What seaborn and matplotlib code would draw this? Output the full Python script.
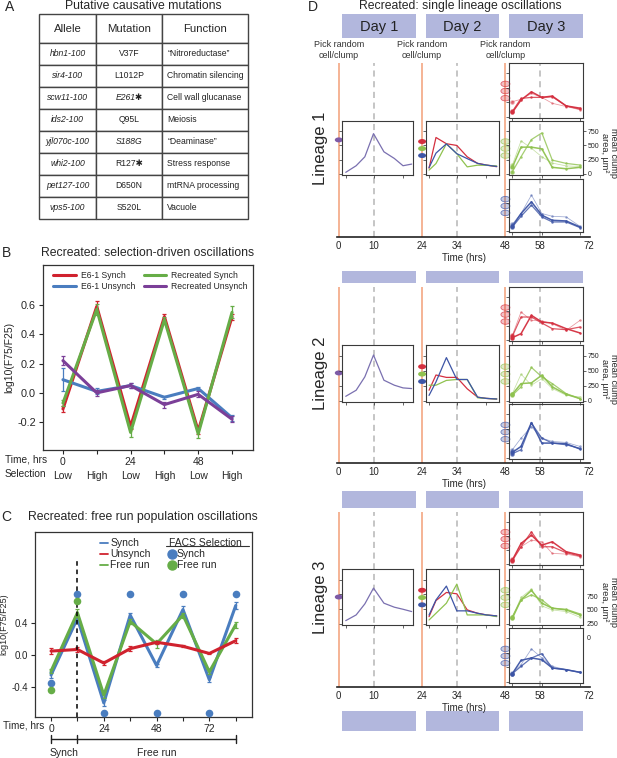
import numpy as np
import seaborn as sns
import matplotlib.pyplot as plt
import matplotlib.transforms as mtransforms
from matplotlib.table import Table
from matplotlib.patches import Ellipse
from matplotlib.lines import Line2D

# ---- panel A: putative causative mutations
ALLELES = ["hbn1-100", "sir4-100", "scw11-100", "ids2-100", "yjl070c-100",
           "whi2-100", "pet127-100", "vps5-100"]
MUTATIONS = ["V37F", "L1012P", "E261\u2731", "Q95L", "S188G", "R127\u2731", "D650N", "S520L"]
MUTATION_ITALIC = [False, False, True, False, True, False, False, False]
FUNCTIONS = ["\u201cNitroreductase\u201d", "Chromatin silencing", "Cell wall glucanase",
             "Meiosis", "\u201cDeaminase\u201d", "Stress response", "mtRNA processing", "Vacuole"]

# ---- panel B: selection-driven oscillations
B_TIME_LABELS = ["0", "", "24", "", "48", ""]
B_SELECTION = ["Low", "High", "Low", "High", "Low", "High"]
B_E61_SYNCH = [-0.11, 0.59, -0.23, 0.52, -0.26, 0.52]
B_E61_SYNCH_ERR = [0.02, 0.04, 0.02, 0.02, 0.02, 0.02]
B_E61_UNSYNCH = [0.09, 0.01, 0.05, -0.03, 0.03, -0.17]
B_E61_UNSYNCH_ERR = [0.08, 0.02, 0.02, 0.01, 0.01, 0.02]
B_REC_SYNCH = [-0.07, 0.57, -0.27, 0.50, -0.28, 0.55]
B_REC_SYNCH_ERR = [0.02, 0.04, 0.03, 0.02, 0.03, 0.04]
B_REC_UNSYNCH = [0.22, 0.00, 0.05, -0.08, -0.01, -0.18]
B_REC_UNSYNCH_ERR = [0.03, 0.02, 0.02, 0.02, 0.02, 0.02]

# ---- panel C: free run population oscillations
C_TIMES = [0, 12, 24, 36, 48, 60, 72, 84]
C_SYNCH = [-0.25, 0.46, -0.60, 0.50, -0.13, 0.57, -0.31, 0.62]
C_SYNCH_ERR = [0.04, 0.04, 0.04, 0.03, 0.02, 0.04, 0.03, 0.04]
C_UNSYNCH = [0.05, 0.07, -0.10, 0.08, 0.16, 0.11, 0.02, 0.18]
C_UNSYNCH_ERR = [0.04, 0.03, 0.02, 0.03, 0.02, 0.01, 0.01, 0.03]
C_FREE = [-0.20, 0.53, -0.50, 0.42, 0.14, 0.50, -0.21, 0.38]
C_FREE_ERR = [0.03, 0.05, 0.04, 0.03, 0.05, 0.03, 0.03, 0.04]
C_FACS_SYNCH = [-0.35, 0.76, -0.72, 0.76, -0.72, 0.76, -0.72, 0.76]
C_FACS_FREE_T = [0, 12]
C_FACS_FREE = [-0.44, 0.68]

# ---- panel D: single lineage oscillations (mean clump area, um^2)
D_DAY1_T = [2, 5, 7.5, 10, 13, 16, 18.5, 21]
D_DAY2_T = [26, 28, 31, 34, 37, 40, 42.5, 45.5]
D_DAY3_T = [50, 52.5, 55.5, 58.5, 61.5, 65.5, 69.5]

L1_DAY1 = [27, 143, 300, 708, 388, 271, 143, 172]
L1_DAY2_RED = [100, 640, 530, 500, 300, 184, 155, 126]
L1_DAY2_GREEN = [66, 182, 528, 355, 123, 153, 150, 140]
L1_DAY2_BLUE = [110, 365, 528, 355, 268, 184, 155, 130]
L1_DAY3_RED = [[76, 291, 432, 336, 359, 189, 150],
               [93, 319, 336, 336, 347, 189, 133],
               [263, 302, 404, 336, 234, 178, 122]]
L1_DAY3_GREEN = [[115, 470, 470, 440, 115, 90, 115],
                 [38, 301, 604, 720, 242, 184, 155],
                 [155, 580, 450, 300, 190, 140, 130]]
L1_DAY3_BLUE = [[82, 311, 521, 281, 190, 178, 70],
                [70, 262, 461, 250, 160, 160, 58],
                [118, 311, 641, 311, 262, 250, 82]]

L2_DAY1 = [75, 176, 399, 763, 343, 260, 215, 204]
L2_DAY2_RED = [176, 430, 390, 390, 200, 60, 40, 30]
L2_DAY2_GREEN = [260, 260, 340, 355, 355, 50, 40, 30]
L2_DAY2_BLUE = [90, 315, 720, 355, 355, 60, 40, 30]
L2_DAY3_RED = [[39, 109, 431, 314, 296, 197, 121],
               [62, 402, 402, 296, 197, 179, 226],
               [80, 490, 343, 332, 285, 168, 343]]
L2_DAY3_GREEN = [[109, 287, 299, 427, 232, 109, 36],
                 [92, 232, 556, 399, 287, 120, 36],
                 [120, 444, 260, 371, 204, 92, 64]]
L2_DAY3_BLUE = [[94, 197, 609, 255, 255, 243, 152],
                [72, 140, 598, 340, 255, 226, 163],
                [140, 340, 540, 340, 283, 266, 197]]

L3_DAY1 = [54, 151, 338, 606, 350, 282, 247, 208]
L3_DAY2_RED = [122, 395, 532, 509, 236, 179, 151, 134]
L3_DAY2_GREEN = [65, 179, 350, 674, 151, 151, 151, 122]
L3_DAY2_BLUE = [150, 405, 640, 220, 220, 179, 151, 134]
L3_DAY3_RED = [[69, 366, 515, 336, 396, 218, 158],
               [57, 307, 574, 307, 307, 200, 140],
               [81, 307, 426, 396, 188, 176, 129]]
L3_DAY3_GREEN = [[94, 407, 566, 350, 265, 236, 151],
                 [122, 407, 492, 407, 265, 247, 168],
                 [111, 447, 589, 304, 236, 208, 111]]
L3_DAY3_BLUE = [[141, 372, 412, 383, 239, 210, 164],
                [141, 268, 412, 487, 239, 210, 164],
                [153, 297, 568, 412, 268, 210, 164]]

D_TICKS = [0, 10, 24, 34, 48, 58, 72]
D_AREA_TICKS = [0, 250, 500, 750]

# ---- colours
RED = "#d0222e"
BLUE = "#4a7dbf"
GREEN = "#66ad47"
PURPLE = "#7b3f98"
D_RED = "#d42f3f"
D_GREEN = "#8fc24f"
D_BLUE = "#3d55a6"
D_PURPLE = "#7a70b0"
ORANGE = "#f3a783"
LAVENDER = "#b2b7dd"

W, H = 617, 758

sns.set_style("ticks")
plt.rcParams["font.family"] = ["Liberation Sans", "DejaVu Sans"]
plt.rcParams["axes.edgecolor"] = "#333333"
plt.rcParams["axes.linewidth"] = 0.9

fig = plt.figure(figsize=(W / 100, H / 100), dpi=100)


def px_axes(x0, y0, x1, y1):
    return fig.add_axes([x0 / W, 1 - y1 / H, (x1 - x0) / W, (y1 - y0) / H])


def fig_text(x, y, s, **kw):
    kw.setdefault("ha", "center")
    kw.setdefault("va", "center")
    return fig.text(x / W, 1 - y / H, s, **kw)


# ================= A =================
fig_text(10, 7, "A", fontsize=10)
fig_text(143, 6, "Putative causative mutations", fontsize=8.8)
ax_a = px_axes(39, 14, 248, 219)
ax_a.axis("off")
tbl = Table(ax_a, bbox=[0, 0, 1, 1])
col_w = [57, 66, 86]
for c, name in enumerate(["Allele", "Mutation", "Function"]):
    cell = tbl.add_cell(0, c, width=col_w[c], height=29, text=name, loc="center",
                        edgecolor="#444444")
    cell.get_text().set_fontsize(8.2)
for r, (allele, mut, ital, func) in enumerate(
        zip(ALLELES, MUTATIONS, MUTATION_ITALIC, FUNCTIONS), start=1):
    c0 = tbl.add_cell(r, 0, width=col_w[0], height=22, text=allele, loc="center",
                      edgecolor="#444444")
    c1 = tbl.add_cell(r, 1, width=col_w[1], height=22, text=mut, loc="center",
                      edgecolor="#444444")
    c2 = tbl.add_cell(r, 2, width=col_w[2], height=22, text=func, loc="left",
                      edgecolor="#444444")
    c2.PAD = 0.06
    c0.get_text().set_fontstyle("italic")
    if ital:
        c1.get_text().set_fontstyle("italic")
    for cell in (c0, c1, c2):
        cell.get_text().set_fontsize(6.2)
        cell.get_text().set_color("#222222")
tbl.auto_set_font_size(False)
for cell in tbl.get_celld().values():
    cell.set_linewidth(1.0)
ax_a.add_table(tbl)

# ================= B =================
fig_text(6, 253, "B", fontsize=10)
fig_text(148, 253, "Recreated: selection-driven oscillations", fontsize=8.8)
ax_b = px_axes(43, 265, 253, 450)
xb = np.arange(len(B_SELECTION))
b_series = [
    (B_E61_SYNCH, B_E61_SYNCH_ERR, RED, "E6-1 Synch"),
    (B_E61_UNSYNCH, B_E61_UNSYNCH_ERR, BLUE, "E6-1 Unsynch"),
    (B_REC_SYNCH, B_REC_SYNCH_ERR, GREEN, "Recreated Synch"),
    (B_REC_UNSYNCH, B_REC_UNSYNCH_ERR, PURPLE, "Recreated Unsynch"),
]
for vals, errs, color, name in b_series:
    sns.lineplot(x=xb, y=vals, color=color, lw=2.2, ax=ax_b, label=name)
    ax_b.errorbar(xb, vals, yerr=errs, fmt="none", ecolor=color, elinewidth=0.9,
                  capsize=1.6, capthick=0.9)
ax_b.legend(ncol=2, loc="upper left", bbox_to_anchor=(0.02, 1.0), frameon=False,
            fontsize=6.2, handlelength=2.6, columnspacing=1.0, labelspacing=0.25,
            handletextpad=0.6, borderaxespad=0.3)
ax_b.set_xlim(-0.59, 5.62)
ax_b.set_ylim(-0.39, 0.873)
ax_b.set_yticks([-0.2, 0.0, 0.2, 0.4, 0.6])
ax_b.set_yticklabels(["-0.2", "0.0", "0.2", "0.4", "0.6"], fontsize=7.8)
ax_b.set_xticks(xb)
ax_b.set_xticklabels([f"{t}\n{s}" for t, s in zip(B_TIME_LABELS, B_SELECTION)],
                     fontsize=7.5, linespacing=1.55)
ax_b.tick_params(length=3, width=0.8, pad=2)
ax_b.set_ylabel("log10(F75/F25)", fontsize=7.5, labelpad=2)
fig_text(5, 459, "Time, hrs", fontsize=7.3, ha="left")
fig_text(5, 474, "Selection", fontsize=7.3, ha="left")

# ================= C =================
fig_text(6, 517, "C", fontsize=10)
fig_text(143, 517, "Recreated: free run population oscillations", fontsize=8.8)
ax_c = px_axes(35, 532, 252, 717)
c_series = [
    (C_SYNCH, C_SYNCH_ERR, BLUE),
    (C_FREE, C_FREE_ERR, GREEN),
    (C_UNSYNCH, C_UNSYNCH_ERR, RED),
]
for vals, errs, color in c_series:
    sns.lineplot(x=C_TIMES, y=vals, color=color, lw=2.2, ax=ax_c)
    ax_c.errorbar(C_TIMES, vals, yerr=errs, fmt="none", ecolor=color, elinewidth=0.9,
                  capsize=1.6, capthick=0.9)
sns.scatterplot(x=C_TIMES, y=C_FACS_SYNCH, color=BLUE, s=30, linewidth=0, ax=ax_c,
                zorder=5)
sns.scatterplot(x=C_FACS_FREE_T, y=C_FACS_FREE, color=GREEN, s=30, linewidth=0,
                ax=ax_c, zorder=5)
ax_c.set_xlim(-7.3, 91.4)
ax_c.set_ylim(-0.775, 1.54)
ax_c.axvline(C_TIMES[1], ymax=0.85, color="black", ls=(0, (3, 2.5)), lw=1.1)
ax_c.set_yticks([-0.4, 0.0, 0.4])
ax_c.set_yticklabels(["-0.4", "0.0", "0.4"], fontsize=7)
ax_c.set_xticks(C_TIMES)
ax_c.set_xticklabels([str(t) if t % 24 == 0 else "" for t in C_TIMES], fontsize=7.5)
ax_c.tick_params(length=3, width=0.8, pad=2)
ax_c.set_ylabel("log10(F75/F25)", fontsize=6.5, labelpad=2)
fig_text(3, 726, "Time, hrs", fontsize=7.2, ha="left")

line_handles = [Line2D([], [], color=c, lw=1.3) for c in (BLUE, RED, GREEN)]
leg1 = ax_c.legend(line_handles, ["Synch", "Unsynch", "Free run"], loc="upper left",
                   bbox_to_anchor=(0.27, 1.0), frameon=False, fontsize=7.5,
                   handlelength=0.8, handletextpad=0.2, labelspacing=0.1,
                   borderaxespad=0.2)
ax_c.add_artist(leg1)
dot_handles = [Line2D([], [], color=c, marker="o", ls="", ms=6.5) for c in (BLUE, GREEN)]
leg2 = ax_c.legend(dot_handles, ["Synch", "Free run"], title="FACS Selection",
                   loc="upper left", bbox_to_anchor=(0.59, 1.0), frameon=False,
                   fontsize=7.5, title_fontsize=7.5, handlelength=0.6,
                   handletextpad=0.1, labelspacing=0.1, borderaxespad=0.2,
                   alignment="left")
ax_c.plot([0.605, 0.985], [0.925, 0.925], transform=ax_c.transAxes, color="#333333",
          lw=0.8, clip_on=False)

# bracket below the time axis: synch then free run
brk = mtransforms.blended_transform_factory(ax_c.transData, ax_c.transAxes)
ax_c.plot([C_TIMES[0], C_TIMES[-1]], [-0.119, -0.119], transform=brk, color="#222222",
          lw=1.0, clip_on=False)
for t in (C_TIMES[0], C_TIMES[1], C_TIMES[-1]):
    ax_c.plot([t, t], [-0.097, -0.141], transform=brk, color="#222222", lw=1.0,
              clip_on=False)
ax_c.text((C_TIMES[0] + C_TIMES[1]) / 2, -0.195, "Synch", transform=brk, fontsize=7.5,
          ha="center", va="center")
ax_c.text((C_TIMES[1] + C_TIMES[-1]) / 2, -0.195, "Free run", transform=brk,
          fontsize=7.5, ha="center", va="center")

# ================= D =================
fig_text(313, 7, "D", fontsize=10)
fig_text(460, 6, "Recreated: single lineage oscillations", fontsize=8.8)

T0_PX = 338.8
PX_PER_H = 3.471


def t_to_px(t):
    return T0_PX + PX_PER_H * t


DAY_SPANS = [(0.9, 21.4), (25.1, 46.1), (49.0, 70.4)]
BOX_SPANS = [(0.9, 22.3), (25.1, 46.1), (49.0, 70.4)]
REP_LW = [1.1, 0.9, 0.55]
REP_ALPHA = [0.95, 0.8, 0.5]
MARK_FRACS = [0.38, 0.51, 0.64]

ROWS = [
    dict(top=63, axis=237, mid=(121, 175), d3=[(63, 118), (121, 175), (179, 232)],
         boxes=[(14, 38)], purple=0.35),
    dict(top=287, axis=463, mid=(345, 402), d3=[(287, 341), (345, 402), (404, 459)],
         boxes=[(271, 283)], purple=0.49),
    dict(top=512, axis=687, mid=(569, 625), d3=[(512, 565), (569, 625), (628, 683)],
         boxes=[(491, 508), (711, 731)], purple=0.5),
]
LINEAGES = [
    (L1_DAY1, [L1_DAY2_RED, L1_DAY2_GREEN, L1_DAY2_BLUE],
     [L1_DAY3_RED, L1_DAY3_GREEN, L1_DAY3_BLUE]),
    (L2_DAY1, [L2_DAY2_RED, L2_DAY2_GREEN, L2_DAY2_BLUE],
     [L2_DAY3_RED, L2_DAY3_GREEN, L2_DAY3_BLUE]),
    (L3_DAY1, [L3_DAY2_RED, L3_DAY2_GREEN, L3_DAY2_BLUE],
     [L3_DAY3_RED, L3_DAY3_GREEN, L3_DAY3_BLUE]),
]
D_COLORS = [D_RED, D_GREEN, D_BLUE]


def style_inset(ax, span, times):
    ax.set_xlim(span)
    ax.set_ylim(-20, 930)
    ax.set_facecolor("none")
    ax.set_yticks(D_AREA_TICKS)
    ax.set_yticklabels([])
    ax.set_xticks(times[::3])
    ax.set_xticklabels([])
    ax.tick_params(length=2, width=0.5, pad=1, labelsize=5)
    ax.set_xlabel("")
    ax.set_ylabel("")
    for sp in ax.spines.values():
        sp.set_color("#3a3a3a")
        sp.set_linewidth(0.8)


def day_marker(ax, t, y, color, faded=False, w=8, h=5):
    if faded:
        ax.add_patch(Ellipse((t, y), w / PX_PER_H, h, facecolor=color, alpha=0.3,
                             edgecolor="none", clip_on=False, zorder=5))
        ax.add_patch(Ellipse((t, y), w / PX_PER_H, h, facecolor="none",
                             edgecolor=color, alpha=0.7, lw=0.6, clip_on=False,
                             zorder=6))
    else:
        ax.add_patch(Ellipse((t, y), w / PX_PER_H, h, facecolor=color, edgecolor="none",
                             clip_on=False, zorder=5))


for li, (row, (day1, day2, day3)) in enumerate(zip(ROWS, LINEAGES)):
    # lavender day boxes
    for bi, (by0, by1) in enumerate(row["boxes"]):
        for di, (s0, s1) in enumerate(BOX_SPANS):
            axb = px_axes(t_to_px(s0), by0, t_to_px(s1), by1)
            axb.set_facecolor(LAVENDER)
            axb.set_xticks([])
            axb.set_yticks([])
            for sp in axb.spines.values():
                sp.set_visible(False)
            if li == 0:
                axb.text(0.5, 0.45, f"Day {di + 1}", transform=axb.transAxes,
                         fontsize=10.5, ha="center", va="center", color="#222222")

    # timeline with day boundaries
    x_left, x_right = 337, 590
    axt = px_axes(x_left, row["top"], x_right, row["axis"])
    axt.set_facecolor("none")
    axt.set_xlim((x_left - T0_PX) / PX_PER_H, (x_right - T0_PX) / PX_PER_H)
    axt.set_ylim(row["axis"], row["top"])
    for t in D_TICKS[0::2][:3]:
        axt.axvline(t, color=ORANGE, lw=1.2, zorder=1)
    for t in D_TICKS[1::2]:
        axt.axvline(t, color="#b5b5b5", lw=1.1, ls=(0, (4, 3)), zorder=1)
    for side in ("left", "right", "top"):
        axt.spines[side].set_visible(False)
    axt.spines["bottom"].set_color("#222222")
    axt.spines["bottom"].set_linewidth(1.2)
    axt.set_yticks([])
    axt.set_xticks(D_TICKS)
    axt.set_xticklabels([str(t) for t in D_TICKS], fontsize=7)
    axt.tick_params(axis="x", length=0, pad=3)
    axt.set_xlabel("Time (hrs)", fontsize=7, labelpad=1)

    m0, m1 = row["mid"]
    fig_text(320, (m0 + m1) / 2, f"Lineage {li + 1}", fontsize=12, rotation=90)
    fig_text(609, (m0 + m1) / 2 + 5, "mean clump\narea, \u00b5m\u00b2", fontsize=6.6,
             rotation=270, linespacing=0.95)
    if li == 0:
        for t in D_TICKS[0::2][:3]:
            fig_text(t_to_px(t), 50, "Pick random\ncell/clump", fontsize=6.5,
                     linespacing=1.3, color="#333333")

    # day 1 inset
    ax1 = px_axes(t_to_px(DAY_SPANS[0][0]), m0, t_to_px(DAY_SPANS[0][1]), m1)
    sns.lineplot(x=D_DAY1_T, y=day1, color=D_PURPLE, lw=0.9, ax=ax1)
    style_inset(ax1, DAY_SPANS[0], D_DAY1_T)
    day_marker(axt, 0, m0 + row["purple"] * (m1 - m0), "#7d5aa6")

    # day 2 inset
    ax2 = px_axes(t_to_px(DAY_SPANS[1][0]), m0, t_to_px(DAY_SPANS[1][1]), m1)
    for k, (vals, color) in enumerate(zip(day2, D_COLORS)):
        sns.lineplot(x=D_DAY2_T, y=vals, color=color, lw=0.9, ax=ax2)
        day_marker(axt, 24, m0 + MARK_FRACS[k] * (m1 - m0), color)
    style_inset(ax2, DAY_SPANS[1], D_DAY2_T)

    # day 3 insets, three picked cells per colour
    for ci, ((y0, y1), reps, color) in enumerate(zip(row["d3"], day3, D_COLORS)):
        ax3 = px_axes(t_to_px(DAY_SPANS[2][0]), y0, t_to_px(DAY_SPANS[2][1]), y1)
        for k, vals in enumerate(reps):
            sns.lineplot(x=D_DAY3_T, y=vals, color=color, lw=REP_LW[k],
                         alpha=REP_ALPHA[k], marker="o", markersize=1.8,
                         markeredgewidth=0, ax=ax3)
            ax3.plot(D_DAY3_T[0], vals[0], "o", ms=3.2, color=color,
                     alpha=REP_ALPHA[k], mec="none")
        style_inset(ax3, DAY_SPANS[2], D_DAY3_T)
        if ci == 1 and li < 2:
            ax3.tick_params(right=True, labelright=True, labelleft=False)
            ax3.set_yticklabels([str(v) for v in D_AREA_TICKS])
        for f in MARK_FRACS:
            day_marker(axt, 48, y0 + f * (y1 - y0), color, faded=True, w=9, h=5.5)

    if li == 2:
        # area labels of the third lineage sit a bit lower and squeezed
        axl = px_axes(583, 569, 584, 641)
        axl.set_facecolor("none")
        axl.set_ylim(-73, 1244)
        axl.set_xticks([])
        axl.set_yticks(D_AREA_TICKS)
        axl.set_yticklabels([str(v) for v in D_AREA_TICKS], fontsize=5)
        axl.yaxis.tick_right()
        axl.tick_params(length=0, pad=2)
        for sp in axl.spines.values():
            sp.set_visible(False)

fig.savefig("out.png", dpi=100)
